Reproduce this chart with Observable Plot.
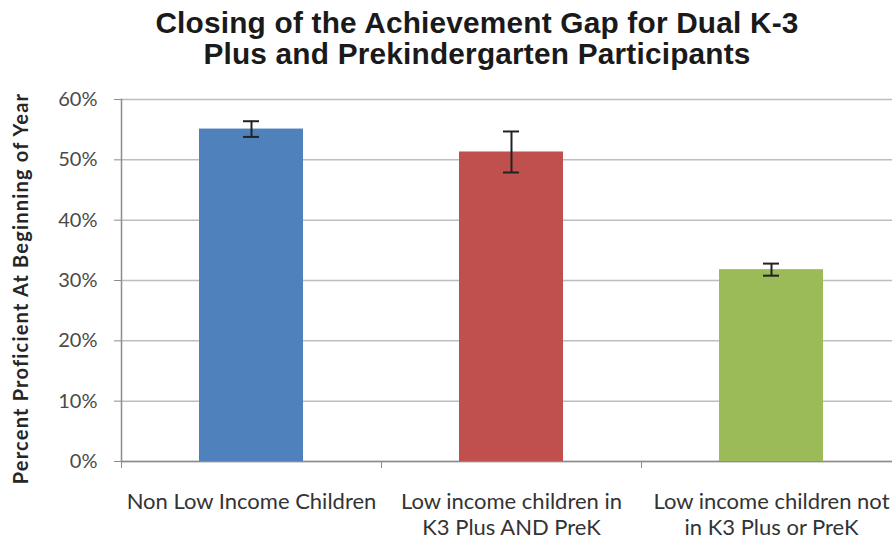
<!DOCTYPE html>
<html><head><meta charset="utf-8">
<script src="https://cdn.jsdelivr.net/npm/d3@7"></script>
<script src="https://cdn.jsdelivr.net/npm/@observablehq/plot@0.6"></script>
<style>
body{margin:0;background:#fff;}
#title{height:75px;width:892px;text-align:center;font-family:"Liberation Sans",Arial,sans-serif;font-weight:bold;font-size:29.8px;line-height:31px;padding-top:7px;box-sizing:border-box;color:#1a1a1a;white-space:nowrap;letter-spacing:0.2px;}
#chart svg{overflow:visible;}
</style></head><body>
<div id="title"><div style="padding-left:62px">Closing of the Achievement Gap for Dual K-3<br>Plus and Prekindergarten Participants</div></div>
<div id="chart"></div>
<script>
const categories = ["Non Low Income Children", "Low income children in K3 Plus AND PreK", "Low income children not in K3 Plus or PreK"];
const labels = ["Non Low Income Children", "Low income children in\nK3 Plus AND PreK", "Low income children not\nin K3 Plus or PreK"];
const values = [55.1, 51.3, 31.8];
const errors = [1.3, 3.4, 1.0];
const colors = ["#4F81BD", "#C0504D", "#9BBB59"];
const yTicks = [0, 10, 20, 30, 40, 50, 60];
const yLabel = "Percent Proficient At Beginning of Year";

const data = categories.map((c, i) => ({cat: c, value: values[i], lo: values[i] - errors[i], hi: values[i] + errors[i]}));
const xRange = [121, 901];
const half = (xRange[1] - xRange[0]) / categories.length / 2;

const chart = Plot.plot({
  width: 892, height: 467,
  marginTop: 24, marginBottom: 81, marginLeft: 121, marginRight: 0,
  style: {fontFamily: "Lato, 'Open Sans', sans-serif", fontSize: "15px", color: "#404040", background: "#fff", overflow: "visible"},
  x: {type: "band", domain: categories, range: xRange, paddingInner: 0.6, paddingOuter: 0.3},
  y: {domain: [0, 60]},
  color: {type: "ordinal", domain: categories, range: colors},
  marks: [
    Plot.gridY(yTicks, {stroke: "#bdbdbd", strokeOpacity: 1, strokeWidth: 1.5}),
    Plot.axisY(yTicks, {tickFormat: d => d + "%", tickSize: 7, stroke: "#8c8c8c", tickPadding: 17, label: null, fontSize: 20, fill: "#4a4a4a"}),
    Plot.frame({anchor: "left", stroke: "#8c8c8c", strokeWidth: 1.5}),
    Plot.frame({anchor: "bottom", stroke: "#8c8c8c", strokeWidth: 1.5}),
    Plot.axisX({tickSize: 7, tickFormat: () => "", dx: -half, stroke: "#8c8c8c", label: null}),
    Plot.axisX({tickSize: 0, tickPadding: 30, tickFormat: (d, i) => labels[i], fontSize: 22, lineHeight: 1.15, label: null, fill: "#333"}),
    Plot.barY(data, {x: "cat", y: "value", fill: "cat"}),
    Plot.ruleX(data, {x: "cat", y1: "lo", y2: "hi", stroke: "#222", strokeWidth: 2}),
    Plot.tickY(data, {x: "cat", y: "lo", stroke: "#222", strokeWidth: 2, insetLeft: 44, insetRight: 44}),
    Plot.tickY(data, {x: "cat", y: "hi", stroke: "#222", strokeWidth: 2, insetLeft: 44, insetRight: 44}),
    Plot.text([yLabel], {frameAnchor: "left", textAnchor: "middle", dx: -100, dy: 8, rotate: -90, fontWeight: "bold", fontSize: 20, fill: "#262626"})
  ]
});
d3.select(chart).selectAll("text").filter(function() { return this.textContent === yLabel; }).style("letter-spacing", "1.2px");
document.getElementById("chart").appendChild(chart);
</script>
</body></html>
